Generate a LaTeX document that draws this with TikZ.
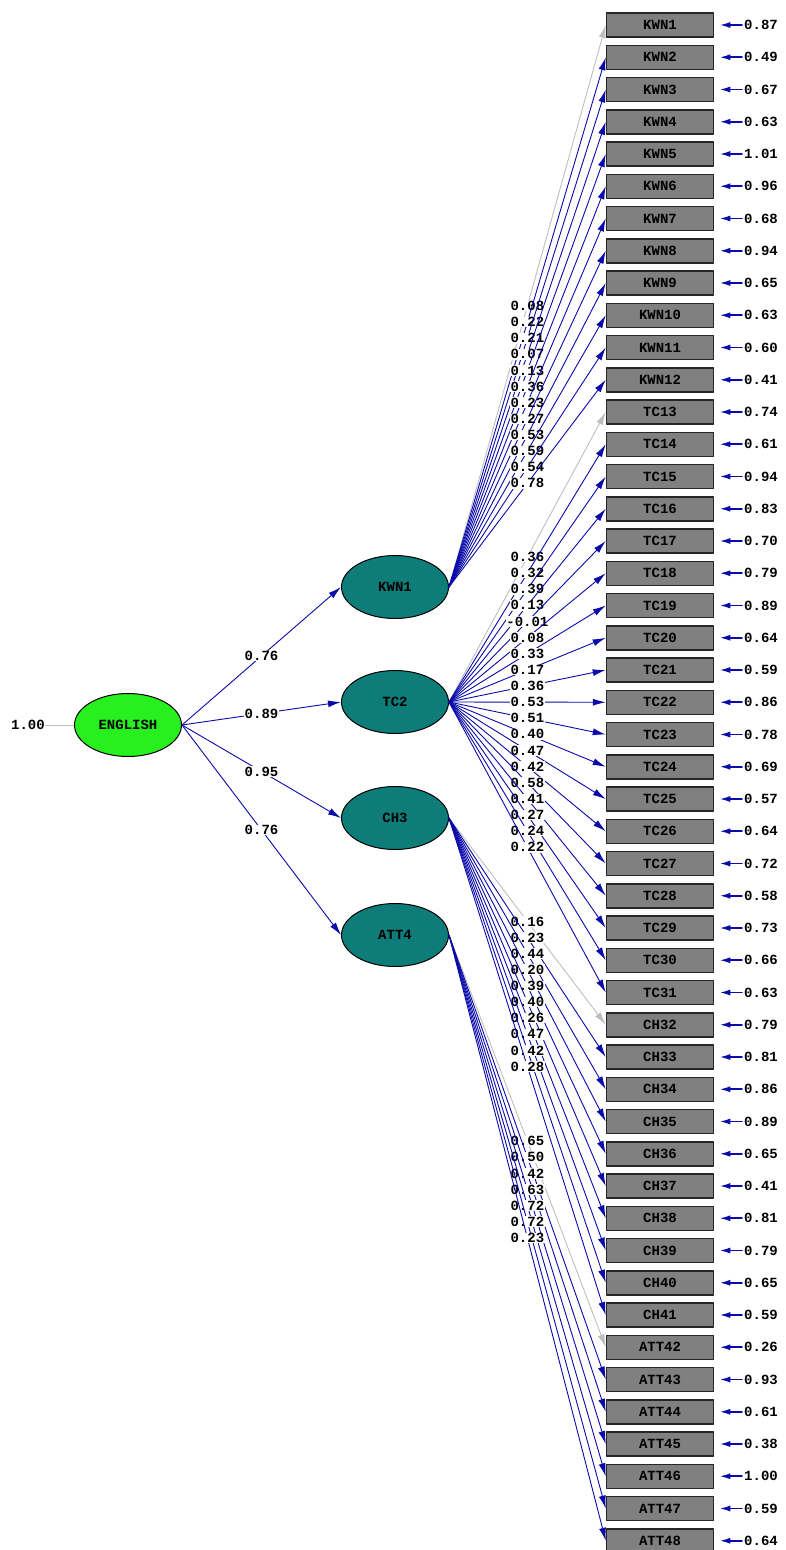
\documentclass[tikz,border=0pt]{standalone}
\usepackage{fontspec}
\newfontfamily\pathfont{Liberation Mono}
\usetikzlibrary{arrows.meta,shapes.geometric}
\definecolor{pathblue}{RGB}{10,10,170}
\definecolor{fixgray}{RGB}{190,190,190}
\definecolor{latteal}{RGB}{14,124,120}
\definecolor{englime}{RGB}{40,240,30}
\definecolor{obsgray}{RGB}{128,128,128}
\tikzset{
  latent/.style={ellipse,draw=black,line width=1pt,fill=latteal,minimum width=107pt,minimum height=63pt,inner sep=0pt,font=\pathfont\bfseries\fontsize{14}{16}\selectfont},
  obsbox/.style={rectangle,draw=black!85,line width=1.5pt,fill=obsgray,minimum width=107pt,minimum height=24pt,inner sep=0pt,font=\pathfont\bfseries\fontsize{14}{16}\selectfont},
  errval/.style={anchor=west,inner sep=0pt,font=\pathfont\bfseries\fontsize{14}{16}\selectfont},
  coef/.style={pos=0.5,fill=white,inner sep=0.6pt,font=\pathfont\bfseries\fontsize{14}{16}\selectfont},
  load/.style={->,draw=pathblue,line width=0.9pt},
  fixed/.style={->,draw=fixgray,line width=0.9pt},
  errarrow/.style={-{Latex[length=11pt,width=6pt]},draw=pathblue,line width=1.8pt,shorten >=5pt,shorten <=2pt}
}
\begin{document}
\begin{tikzpicture}[x=1pt,y=-1pt,>={Latex[length=13pt,width=7pt]}, line join=round, line cap=round]
                \useasboundingbox (0,0) rectangle (785,1550);
                % observed variables and error variances
                \foreach \lab/\err [count=\i from 0] in {KWN1/0.87,KWN2/0.49,KWN3/0.67,KWN4/0.63,KWN5/1.01,KWN6/0.96,KWN7/0.68,KWN8/0.94,KWN9/0.65,KWN10/0.63,KWN11/0.60,KWN12/0.41,
                    TC13/0.74,TC14/0.61,TC15/0.94,TC16/0.83,TC17/0.70,TC18/0.79,TC19/0.89,TC20/0.64,TC21/0.59,TC22/0.86,TC23/0.78,TC24/0.69,TC25/0.57,TC26/0.64,TC27/0.72,TC28/0.58,TC29/0.73,TC30/0.66,TC31/0.63,
                    CH32/0.79,CH33/0.81,CH34/0.86,CH35/0.89,CH36/0.65,CH37/0.41,CH38/0.81,CH39/0.79,CH40/0.65,CH41/0.59,
                    ATT42/0.26,ATT43/0.93,ATT44/0.61,ATT45/0.38,ATT46/1.00,ATT47/0.59,ATT48/0.64}
                {
                    \node[obsbox] (\lab) at (660,{25+32.25*\i}) {\lab};
                    \node[errval] (e\lab) at (744,{25+32.25*\i}) {\err};
                    \draw[errarrow] (e\lab.west) -- (\lab.east);
                }
                % latent variables
                \node[latent,fill=englime] (english) at (128,725) {ENGLISH};
                \node[latent] (kwn) at (395,587) {KWN1};
                \node[latent] (tc) at (395,702) {TC2};
                \node[latent] (ch) at (395,818) {CH3};
                \node[latent] (att) at (395,935) {ATT4};
                \node[inner sep=0pt,font=\pathfont\bfseries\fontsize{14}{16}\selectfont] (one) at (28,725) {1.00};
                \draw[draw=fixgray,line width=0.9pt] (one.east) -- (english.west);
                \draw[load] (english.east) -- (kwn.west) node[coef]{0.76};
                \draw[load] (english.east) -- (tc.west) node[coef]{0.89};
                \draw[load] (english.east) -- (ch.west) node[coef]{0.95};
                \draw[load] (english.east) -- (att.west) node[coef]{0.76};
                % loadings
                \draw[fixed] (kwn.east) -- (KWN1.west) node[coef]{0.08};
                \foreach \lab/\val in {KWN2/0.22,KWN3/0.21,KWN4/0.07,KWN5/0.13,KWN6/0.36,KWN7/0.23,KWN8/0.27,KWN9/0.53,KWN10/0.59,KWN11/0.54,KWN12/0.78}
                    \draw[load] (kwn.east) -- (\lab.west) node[coef]{\val};
                \draw[fixed] (tc.east) -- (TC13.west) node[coef]{0.36};
                \foreach \lab/\val in {TC14/0.32,TC15/0.39,TC16/0.13,TC17/-0.01,TC18/0.08,TC19/0.33,TC20/0.17,TC21/0.36,TC22/0.53,TC23/0.51,TC24/0.40,TC25/0.47,TC26/0.42,TC27/0.58,TC28/0.41,TC29/0.27,TC30/0.24,TC31/0.22}
                    \draw[load] (tc.east) -- (\lab.west) node[coef]{\val};
                \draw[fixed] (ch.east) -- (CH32.west) node[coef]{0.16};
                \foreach \lab/\val in {CH33/0.23,CH34/0.44,CH35/0.20,CH36/0.39,CH37/0.40,CH38/0.26,CH39/0.47,CH40/0.42,CH41/0.28}
                    \draw[load] (ch.east) -- (\lab.west) node[coef]{\val};
                \draw[fixed] (att.east) -- (ATT42.west) node[coef]{0.65};
                \foreach \lab/\val in {ATT43/0.50,ATT44/0.42,ATT45/0.63,ATT46/0.72,ATT47/0.72,ATT48/0.23}
                    \draw[load] (att.east) -- (\lab.west) node[coef]{\val};
\end{tikzpicture}
\end{document}
